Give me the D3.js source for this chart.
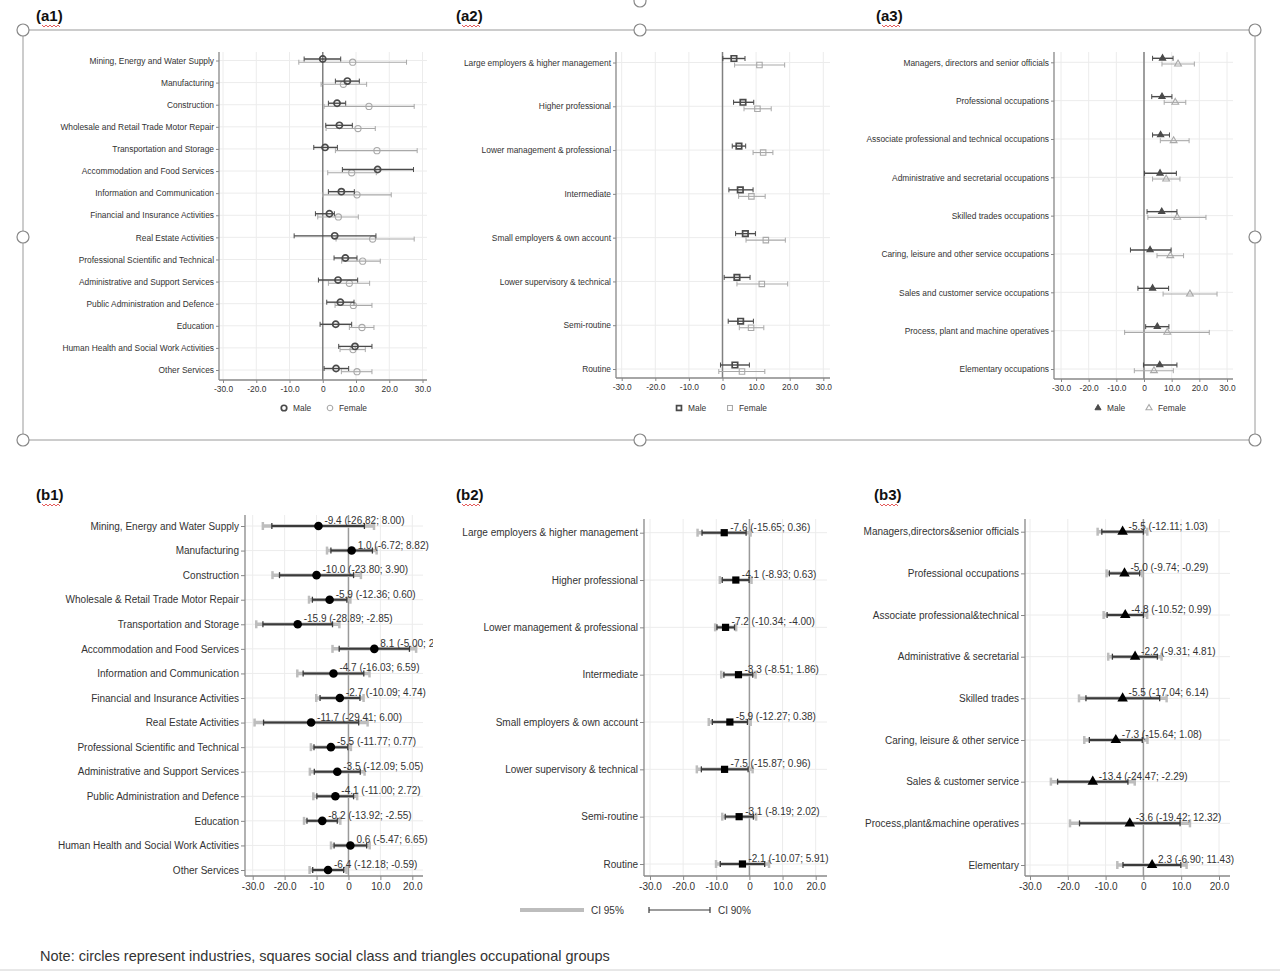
<!DOCTYPE html>
<html><head><meta charset="utf-8">
<script src="https://cdn.jsdelivr.net/npm/d3@7"></script>
<style>body{margin:0;background:#fff;} svg{display:block;font-family:Arial,"Liberation Sans",Helvetica,sans-serif;}</style>
</head><body>
<svg id="c" width="1280" height="972"></svg>
<script>
// ---------------- DATA ----------------
const aTickValues = [-30,-20,-10,0,10,20,30];
const aTickLabels = ["-30.0","-20.0","-10.0","0","10.0","20.0","30.0"];
const bTickValues = [-30,-20,-10,0,10,20];
const b1TickLabels = ["-30.0","-20.0","-10","0","10.0","20.0"];
const b23TickLabels = ["-30.0","-20.0","-10.0","0","10.0","20.0"];

const a1Categories = ["Mining, Energy and Water Supply","Manufacturing","Construction","Wholesale and Retail Trade Motor Repair","Transportation and Storage","Accommodation and Food Services","Information and Communication","Financial and Insurance Activities","Real Estate Activities","Professional Scientific and Technical","Administrative and Support Services","Public Administration and Defence","Education","Human Health and Social Work Activities","Other Services"];
const a1MaleEst   = [0.0, 7.4, 4.3, 5.0, 0.7, 16.5, 5.6, 2.0, 3.6, 6.8, 4.6, 5.3, 3.9, 9.7, 4.0];
const a1MaleLo    = [-5.6, 3.8, 1.7, 0.9, -2.7, 5.9, 1.7, -2.2, -8.6, 3.4, -1.3, 1.2, -0.8, 4.8, 0.4];
const a1MaleHi    = [5.4, 11.0, 6.9, 8.9, 4.4, 27.3, 9.5, 3.5, 16.0, 10.3, 10.5, 9.4, 8.7, 14.8, 7.8];
const a1FemaleEst = [9.0, 6.2, 13.9, 10.6, 16.3, 8.7, 10.3, 4.7, 15.0, 12.0, 8.0, 9.2, 11.8, 9.1, 10.3];
const a1FemaleLo  = [-7.2, -0.5, 0.4, 1.0, 3.8, 1.5, 0.0, -1.5, 4.0, 5.7, 1.7, 3.7, 8.0, 5.2, 5.6];
const a1FemaleHi  = [25.2, 13.2, 27.5, 15.8, 28.4, 16.1, 20.6, 10.7, 27.5, 17.3, 14.1, 14.8, 15.4, 12.8, 14.8];

const a2Categories = ["Large employers & higher management","Higher professional","Lower management & professional","Intermediate","Small employers & own account","Lower supervisory & technical","Semi-routine","Routine"];
const a2MaleEst   = [3.4, 6.1, 4.9, 5.3, 6.8, 4.3, 5.4, 3.7];
const a2MaleLo    = [0.1, 3.3, 2.9, 1.9, 3.9, 0.5, 1.7, -0.6];
const a2MaleHi    = [6.7, 9.3, 6.9, 9.1, 9.8, 8.2, 9.2, 8.0];
const a2FemaleEst = [11.0, 10.4, 12.1, 8.6, 12.9, 11.7, 8.5, 5.8];
const a2FemaleLo  = [3.6, 6.4, 9.1, 4.8, 7.0, 4.3, 5.0, -1.1];
const a2FemaleHi  = [18.5, 14.5, 15.0, 12.7, 18.7, 19.4, 12.3, 12.6];

const a3Categories = ["Managers, directors and senior officials","Professional occupations","Associate professional and technical occupations","Administrative and secretarial occupations","Skilled trades occupations","Caring, leisure and other service occupations","Sales and customer service occupations","Process, plant and machine operatives","Elementary occupations"];
const a3MaleEst   = [6.7, 6.5, 6.0, 5.8, 6.4, 2.2, 3.1, 4.8, 5.7];
const a3MaleLo    = [3.1, 2.8, 3.1, 0.2, 1.1, -4.9, -2.2, 0.6, -0.2];
const a3MaleHi    = [10.5, 10.1, 9.2, 11.7, 11.9, 9.8, 8.9, 9.0, 11.9];
const a3FemaleEst = [12.3, 11.3, 10.7, 8.0, 12.0, 9.5, 16.6, 8.4, 3.6];
const a3FemaleLo  = [6.5, 7.3, 5.9, 3.1, 1.4, 4.7, 6.9, -7.0, -3.5];
const a3FemaleHi  = [18.2, 15.1, 16.3, 13.0, 22.4, 14.3, 26.4, 23.6, 10.6];

const b1Categories = ["Mining, Energy and Water Supply","Manufacturing","Construction","Wholesale & Retail Trade Motor Repair","Transportation and Storage","Accommodation and Food Services","Information and Communication","Financial and Insurance Activities","Real Estate Activities","Professional Scientific and Technical","Administrative and Support Services","Public Administration and Defence","Education","Human Health and Social Work Activities","Other Services"];
const b1Est  = [-9.4, 1.0, -10.0, -5.9, -15.9, 8.1, -4.7, -2.7, -11.7, -5.5, -3.5, -4.1, -8.2, 0.6, -6.4];
const b1Lo95 = [-26.82, -6.72, -23.80, -12.36, -28.89, -5.00, -16.03, -10.09, -29.41, -11.77, -12.09, -11.00, -13.92, -5.47, -12.18];
const b1Hi95 = [8.00, 8.82, 3.90, 0.60, -2.85, 21.20, 6.59, 4.74, 6.00, 0.77, 5.05, 2.72, -2.55, 6.65, -0.59];
const b1Lo90 = [-24.0, -5.5, -21.6, -11.3, -26.8, -2.9, -14.2, -8.9, -26.6, -10.8, -10.7, -9.9, -13.0, -4.5, -11.2];
const b1Hi90 = [5.0, 7.5, 1.6, -0.5, -5.0, 19.1, 4.8, 3.6, 3.2, -0.2, 3.7, 1.6, -3.5, 5.7, -1.5];

const b2Categories = ["Large employers & higher management","Higher professional","Lower management & professional","Intermediate","Small employers & own account","Lower supervisory & technical","Semi-routine","Routine"];
const b2Est  = [-7.6, -4.1, -7.2, -3.3, -5.9, -7.5, -3.1, -2.1];
const b2Lo95 = [-15.65, -8.93, -10.34, -8.51, -12.27, -15.87, -8.19, -10.07];
const b2Hi95 = [0.36, 0.63, -4.00, 1.86, 0.38, 0.96, 2.02, 5.91];
const b2Lo90 = [-14.3, -8.2, -9.8, -7.7, -11.2, -14.5, -7.3, -8.8];
const b2Hi90 = [-1.0, -0.1, -4.5, 1.0, -0.6, -0.4, 1.2, 4.6];

const b3Categories = ["Managers,directors&senior officials","Professional occupations","Associate professional&technical","Administrative & secretarial","Skilled trades","Caring, leisure & other service","Sales & customer service","Process,plant&machine operatives","Elementary"];
const b3Est  = [-5.5, -5.0, -4.8, -2.2, -5.5, -7.3, -13.4, -3.6, 2.3];
const b3Lo95 = [-12.11, -9.74, -10.52, -9.31, -17.04, -15.64, -24.47, -19.42, -6.90];
const b3Hi95 = [1.03, -0.29, 0.99, 4.81, 6.14, 1.08, -2.29, 12.32, 11.43];
const b3Lo90 = [-11.0, -9.0, -9.6, -8.2, -15.2, -14.3, -22.7, -16.9, -5.4];
const b3Hi90 = [0.0, -1.0, 0.0, 3.7, 4.3, -0.3, -4.1, 9.7, 9.9];

const panelLabels = ["(a1)","(a2)","(a3)","(b1)","(b2)","(b3)"];
const legendSeries = ["Male","Female"];
const ciLegend = ["CI 95%","CI 90%"];
const noteText = "Note: circles represent industries, squares social class and triangles occupational groups";

// ---------------- DRAWING ----------------
const svg = d3.select('#c');
svg.append('rect').attr('width',1280).attr('height',972).attr('fill','#fff');
const AFS = 8.4;

function symbolPath(type, size){
  const t = type==='circle'?d3.symbolCircle:type==='square'?d3.symbolSquare:d3.symbolTriangle;
  return d3.symbol().type(t).size(size)();
}

function frame(g, cfg, x, y, tickVals, tickLabels, fs){
  g.append('g').selectAll('line').data(tickVals).join('line')
    .attr('x1',d=>x(d)).attr('x2',d=>x(d)).attr('y1',cfg.top).attr('y2',cfg.bottom)
    .attr('stroke','#ececec').attr('stroke-width',1);
  g.append('g').selectAll('line').data(y.domain()).join('line')
    .attr('x1',cfg.axisX).attr('x2',cfg.right).attr('y1',d=>y(d)).attr('y2',d=>y(d))
    .attr('stroke','#ececec').attr('stroke-width',1);
  g.append('line').attr('x1',x(0)).attr('x2',x(0)).attr('y1',cfg.top).attr('y2',cfg.bottom)
    .attr('stroke',cfg.zeroColor).attr('stroke-width',cfg.zeroWidth);
  const ay = g.append('g').attr('transform',`translate(${cfg.axisX},0)`)
    .call(d3.axisLeft(y).tickSize(cfg.tickLen).tickPadding(2));
  ay.select('.domain').remove();
  ay.selectAll('line').attr('stroke','#888');
  ay.selectAll('text').attr('font-size',fs).attr('fill','#333').attr('font-family','Arial, "Liberation Sans", sans-serif');
  g.append('line').attr('x1',cfg.axisX).attr('x2',cfg.axisX).attr('y1',cfg.top).attr('y2',cfg.bottom)
    .attr('stroke','#888').attr('stroke-width',1.3);
  const ax = g.append('g').attr('transform',`translate(0,${cfg.bottom})`)
    .call(d3.axisBottom(x).tickValues(tickVals).tickFormat((d,i)=>tickLabels[i]).tickSize(cfg.tickLen).tickPadding(3));
  ax.select('.domain').remove();
  ax.selectAll('line').attr('stroke','#888');
  ax.selectAll('text').attr('font-size',fs).attr('fill','#333').attr('font-family','Arial, "Liberation Sans", sans-serif');
  g.append('line').attr('x1',cfg.axisX).attr('x2',cfg.right).attr('y1',cfg.bottom).attr('y2',cfg.bottom)
    .attr('stroke','#888').attr('stroke-width',1.3);
}

function errBar(g, x1, x2, yy, color, width, cap, capW){
  g.append('line').attr('x1',x1).attr('x2',x2).attr('y1',yy).attr('y2',yy).attr('stroke',color).attr('stroke-width',width);
  [x1,x2].forEach(xx=>g.append('line').attr('x1',xx).attr('x2',xx).attr('y1',yy-cap/2).attr('y2',yy+cap/2)
    .attr('stroke',color).attr('stroke-width',capW));
}

function aPanel(cfg, cats, mEst, mLo, mHi, fEst, fLo, fHi){
  const g = svg.append('g');
  const x = d3.scaleLinear().domain([-30,30]).range([cfg.x0,cfg.x1]);
  const y = d3.scalePoint().domain(cats).range([cfg.y0,cfg.y1]);
  frame(g, cfg, x, y, aTickValues, aTickLabels, AFS);
  const tri = cfg.marker==='triangle';
  const series = [
    {est:fEst, lo:fLo, hi:fHi, off:cfg.fOff, color:'#a9a9a9', fill:'none', sw:1.1, lw:1.1},
    {est:mEst, lo:mLo, hi:mHi, off:cfg.mOff, color:'#4a4a4a', fill: tri?'#4a4a4a':'none', sw:1.7, lw:1.4}
  ];
  series.forEach(s=>{
    cats.forEach((c,i)=>{
      errBar(g, x(s.lo[i]), x(s.hi[i]), y(c)+s.off, s.color, s.lw, 5, 1);
    });
    cats.forEach((c,i)=>{
      g.append('path').attr('d',symbolPath(cfg.marker, tri?(s.fill==='none'?20:16):30))
        .attr('transform',`translate(${x(s.est[i])},${y(c)+s.off})`)
        .attr('fill', s.fill==='none'?'none':s.fill)
        .attr('stroke',s.color).attr('stroke-width',tri&&s.fill!=='none'?1.2:s.sw);
    });
  });
  const lg = g.append('g');
  [['#4a4a4a',1.7,tri?'#4a4a4a':'none'],['#a9a9a9',1.1,'none']].forEach((st,i)=>{
    const lx = cfg.legX[i];
    lg.append('path').attr('d',symbolPath(cfg.marker, tri?16:24))
      .attr('transform',`translate(${lx},${cfg.legY})`)
      .attr('fill',st[2]).attr('stroke',st[0]).attr('stroke-width',tri&&i===0?1:st[1]);
    lg.append('text').attr('x',lx+9).attr('y',cfg.legY+3).attr('font-size',AFS).attr('fill','#333').text(legendSeries[i]);
  });
}

function bPanel(cfg, cats, est, lo95, hi95, lo90, hi90, tickLabels){
  const g = svg.append('g');
  const x = d3.scaleLinear().domain([-30,20]).range([cfg.x0,cfg.x1]);
  const y = d3.scalePoint().domain(cats).range([cfg.y0,cfg.y1]);
  frame(g, cfg, x, y, bTickValues, tickLabels, 10);
  const clipId = 'clip'+cfg.id;
  svg.append('clipPath').attr('id',clipId).append('rect').attr('x',cfg.axisX).attr('y',cfg.top-30).attr('width',cfg.clipRight-cfg.axisX).attr('height',cfg.bottom-cfg.top+40);
  cats.forEach((c,i)=>{
    const yy = y(c);
    errBar(g, x(lo95[i]), x(hi95[i]), yy, '#bdbdbd', 3.5, 8, 2.5);
    errBar(g, x(lo90[i]), x(hi90[i]), yy, '#3a3a3a', 2, 6, 1.3);
  });
  cats.forEach((c,i)=>{
    g.append('path').attr('d',symbolPath(cfg.marker, cfg.marker==='circle'?58:cfg.marker==='square'?52:48))
      .attr('transform',`translate(${x(est[i])},${y(c)})`).attr('fill','#000');
  });
  const tg = g.append('g').attr('clip-path',`url(#${clipId})`);
  cats.forEach((c,i)=>{
    tg.append('text').attr('x',x(est[i])+6).attr('y',y(c)-2).attr('font-size',10).attr('fill','#333')
      .text(`${est[i].toFixed(1)} (${lo95[i].toFixed(2)}; ${hi95[i].toFixed(2)})`);
  });
}

// selection frame around top panels
const fr = svg.append('g');
fr.append('rect').attr('x',23).attr('y',30).attr('width',1232).attr('height',410)
  .attr('fill','none').attr('stroke','#9a9a9a').attr('stroke-width',1);
[[23,30],[640,30],[1255,30],[23,237],[1255,237],[23,440],[640,440],[1255,440],[640,1]].forEach(p=>{
  fr.append('circle').attr('cx',p[0]).attr('cy',p[1]).attr('r',6).attr('fill','#fff').attr('stroke','#888').attr('stroke-width',1.2);
});

aPanel({x0:223,x1:422.5,y0:60.5,y1:370,axisX:219,right:427,top:52,bottom:380,tickLen:3,zeroColor:'#808080',zeroWidth:1.5,
  marker:'circle',mOff:-1.5,fOff:1.7,legX:[284,330],legY:408}, a1Categories, a1MaleEst, a1MaleLo, a1MaleHi, a1FemaleEst, a1FemaleLo, a1FemaleHi);
aPanel({x0:621.7,x1:823.3,y0:62.5,y1:369,axisX:616,right:830,top:52,bottom:378,tickLen:3,zeroColor:'#808080',zeroWidth:1.5,
  marker:'square',mOff:-4,fOff:2.5,legX:[679,730],legY:408}, a2Categories, a2MaleEst, a2MaleLo, a2MaleHi, a2FemaleEst, a2FemaleLo, a2FemaleHi);
aPanel({x0:1061,x1:1227,y0:62.3,y1:369,axisX:1054,right:1233,top:52,bottom:379,tickLen:3,zeroColor:'#808080',zeroWidth:1.5,
  marker:'triangle',mOff:-4,fOff:1.7,legX:[1098,1149],legY:408}, a3Categories, a3MaleEst, a3MaleLo, a3MaleHi, a3FemaleEst, a3FemaleLo, a3FemaleHi);

bPanel({id:'b1',x0:252.7,x1:412.3,y0:526,y1:870,axisX:245,right:423,top:515,bottom:876,tickLen:4,zeroColor:'#9a9a9a',zeroWidth:1.5,
  marker:'circle',clipRight:433}, b1Categories, b1Est, b1Lo95, b1Hi95, b1Lo90, b1Hi90, b1TickLabels);
bPanel({id:'b2',x0:650,x1:815.7,y0:532.7,y1:864,axisX:644,right:827,top:519,bottom:876,tickLen:4,zeroColor:'#9a9a9a',zeroWidth:1.5,
  marker:'square',clipRight:850}, b2Categories, b2Est, b2Lo95, b2Hi95, b2Lo90, b2Hi90, b23TickLabels);
bPanel({id:'b3',x0:1030,x1:1219,y0:531.7,y1:865,axisX:1025,right:1230,top:519,bottom:876,tickLen:4,zeroColor:'#9a9a9a',zeroWidth:1.5,
  marker:'triangle',clipRight:1275}, b3Categories, b3Est, b3Lo95, b3Hi95, b3Lo90, b3Hi90, b23TickLabels);

// CI legend under b2
const cl = svg.append('g');
cl.append('line').attr('x1',520).attr('x2',584).attr('y1',910).attr('y2',910).attr('stroke','#bdbdbd').attr('stroke-width',4);
cl.append('text').attr('x',591).attr('y',914).attr('font-size',10).attr('fill','#333').text(ciLegend[0]);
errBar(cl, 649, 710, 910, '#3a3a3a', 1.2, 6, 1.2);
cl.append('text').attr('x',718).attr('y',914).attr('font-size',10).attr('fill','#333').text(ciLegend[1]);

// panel labels with spell-check squiggle
[[36,21],[456,21],[876,21],[36,500],[456,500],[874,500]].forEach((p,i)=>{
  const t = svg.append('text').attr('x',p[0]).attr('y',p[1]).attr('font-size',15).attr('font-weight','bold').attr('fill','#111').text(panelLabels[i]);
  const w = t.node().getComputedTextLength();
  let d = `M${p[0]+6},${p[1]+4}`;
  let k = 0;
  for(let xx=p[0]+6; xx<p[0]+w-4; xx+=2){ k++; d += ` L${xx+2},${p[1]+(k%2===0?4:6)}`; }
  svg.append('path').attr('d',d).attr('fill','none').attr('stroke','#d33').attr('stroke-width',0.8);
});

svg.append('text').attr('x',40).attr('y',961).attr('font-size',14.5).attr('fill','#333').text(noteText);
svg.append('line').attr('x1',0).attr('x2',1280).attr('y1',970).attr('y2',970).attr('stroke','#d0d0d0');
</script>
</body></html>
